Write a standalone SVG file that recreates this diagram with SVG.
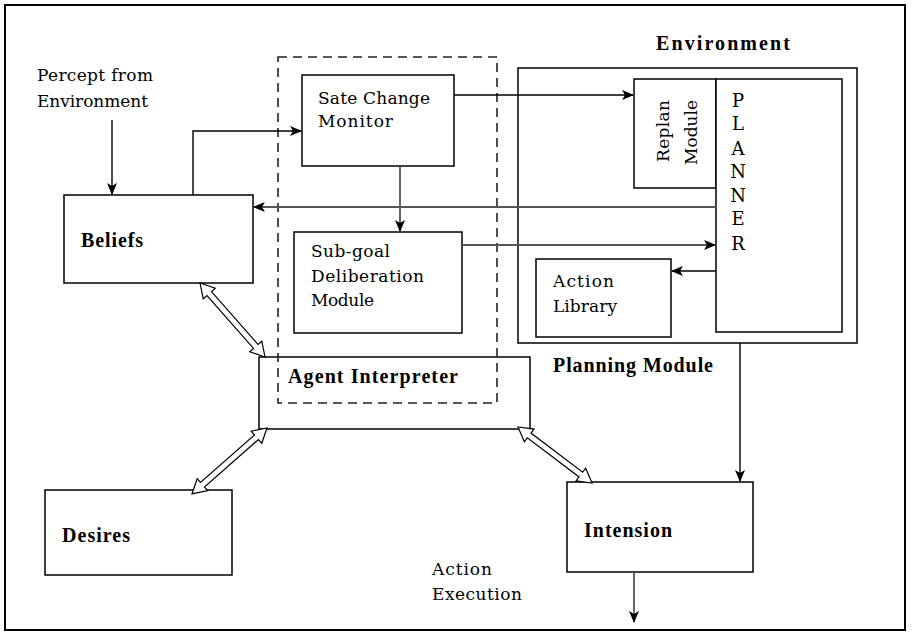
<svg xmlns="http://www.w3.org/2000/svg" width="912" height="635" viewBox="0 0 912 635">
  <style>
    .box { fill: #fff; stroke: #000; stroke-width: 1.5; }
    .frame { fill: #fff; stroke: #000; stroke-width: 2; }
    .dash { fill: none; stroke: #222; stroke-width: 1.6; stroke-dasharray: 9 6; }
    .t { font-family: "DejaVu Serif", "Liberation Serif", serif; font-size: 17px; fill: #000; }
    .b { font-family: "Liberation Serif", "Times New Roman", serif; font-size: 20px; font-weight: bold; fill: #000; }
    .ln { fill: none; stroke: #000; stroke-width: 1.4; marker-end: url(#head); }
    .gl { fill: none; stroke: #555; stroke-width: 1.8; marker-end: url(#head); }
    .dbl { fill: #fff; stroke: #000; stroke-width: 1.2; stroke-linejoin: miter; }
  </style>
  <defs>
    <marker id="head" viewBox="0 0 12 10" refX="11" refY="5" markerWidth="12" markerHeight="10" markerUnits="userSpaceOnUse" orient="auto">
      <path d="M0,0 L12,5 L0,10 L3,5 Z" fill="#000"/>
    </marker>
  </defs>

  <!-- outer frame -->
  <rect class="frame" x="5" y="5" width="900" height="625"/>

  <!-- nodes -->
  <g id="percept">
    <text class="t" x="37" y="81" textLength="116">Percept from</text>
    <text class="t" x="37" y="107" textLength="111">Environment</text>
  </g>

  <g id="beliefs">
    <rect class="box" x="64" y="195" width="189" height="88"/>
    <text class="b" x="81" y="247" textLength="62">Beliefs</text>
  </g>

  <g id="state-change-monitor">
    <rect class="box" x="302" y="75" width="152" height="91"/>
    <text class="t" x="318" y="104" textLength="112">Sate Change</text>
    <text class="t" x="318" y="127" textLength="75">Monitor</text>
  </g>

  <g id="sub-goal">
    <rect class="box" x="294" y="232" width="168" height="101"/>
    <text class="t" x="311" y="257" textLength="79">Sub-goal</text>
    <text class="t" x="311" y="282" textLength="113">Deliberation</text>
    <text class="t" x="311" y="306" textLength="63">Module</text>
  </g>

  <g id="planning-module">
    <text class="b" x="656" y="50" textLength="134">Environment</text>
    <rect class="box" x="518" y="68" width="339" height="275"/>
    <text class="b" x="553" y="372" textLength="160">Planning Module</text>
  </g>

  <g id="replan">
    <rect class="box" x="634" y="79" width="82" height="109"/>
    <text class="t" transform="translate(669,162) rotate(-90)" textLength="62">Replan</text>
    <text class="t" transform="translate(697,165) rotate(-90)" textLength="65">Module</text>
  </g>

  <g id="planner">
    <rect class="box" x="716" y="79" width="126" height="253"/>
    <g class="t" text-anchor="middle" style="font-size:18px">
      <text x="738" y="107">P</text>
      <text x="738" y="130">L</text>
      <text x="738" y="155">A</text>
      <text x="738" y="178">N</text>
      <text x="738" y="202">N</text>
      <text x="738" y="225">E</text>
      <text x="738" y="250">R</text>
    </g>
  </g>

  <g id="action-library">
    <rect class="box" x="536" y="259" width="135" height="78"/>
    <text class="t" x="553" y="287" textLength="61">Action</text>
    <text class="t" x="553" y="312" textLength="64">Library</text>
  </g>

  <g id="agent-interpreter">
    <rect class="box" x="259" y="357" width="271" height="72"/>
    <text class="b" x="288" y="383" textLength="170">Agent Interpreter</text>
  </g>

  <g id="desires">
    <rect class="box" x="45" y="490" width="187" height="85"/>
    <text class="b" x="62" y="542" textLength="68">Desires</text>
  </g>

  <g id="intension">
    <rect class="box" x="567" y="482" width="186" height="90"/>
    <text class="b" x="584" y="537" textLength="88">Intension</text>
  </g>

  <g id="action-execution">
    <text class="t" x="432" y="575" textLength="60">Action</text>
    <text class="t" x="432" y="600" textLength="90">Execution</text>
  </g>

  <!-- dashed grouping around monitor, deliberation and interpreter -->
  <rect class="dash" x="278" y="57" width="219" height="346"/>

  <!-- connectors -->
  <g id="connectors">
    <path class="ln" d="M112,120 L112,194"/>
    <path class="ln" d="M193,195 L193,131 L301,131"/>
    <path class="gl" d="M400,166 L400,231"/>
    <path class="ln" d="M454,95 L633,95"/>
    <path class="gl" d="M716,207 L254,207"/>
    <path class="gl" d="M462,245 L715,245"/>
    <path class="ln" d="M716,271 L672,271"/>
    <path class="ln" d="M740,343 L740,481"/>
    <path class="gl" d="M634,572 L634,622"/>

    <!-- hollow two-way arrows -->
    <path class="dbl" transform="translate(200,283) rotate(48.7)" d="M0,0 L14,-8 L14,-3 L84.5,-3 L84.5,-8 L98.5,0 L84.5,8 L84.5,3 L14,3 L14,8 Z"/>
    <path class="dbl" transform="translate(267,428) rotate(138.7)" d="M0,0 L14,-8 L14,-3 L85.9,-3 L85.9,-8 L99.9,0 L85.9,8 L85.9,3 L14,3 L14,8 Z"/>
    <path class="dbl" transform="translate(518,427) rotate(37.1)" d="M0,0 L14,-8 L14,-3 L78.8,-3 L78.8,-8 L92.8,0 L78.8,8 L78.8,3 L14,3 L14,8 Z"/>
  </g>
</svg>
